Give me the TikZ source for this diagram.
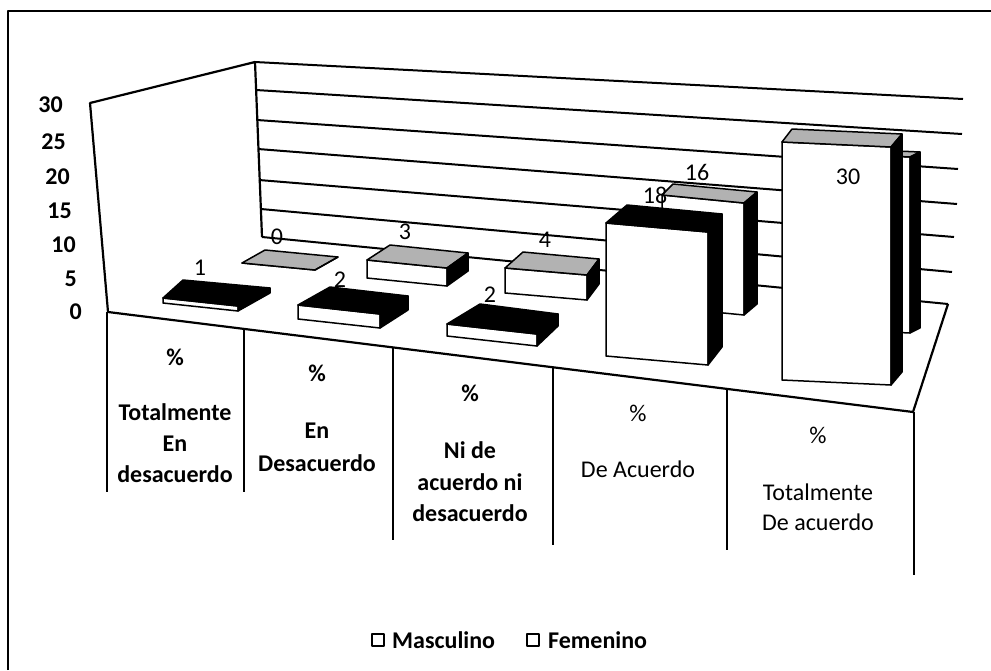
\documentclass[tikz,border=0pt]{standalone}
\usepackage{fontspec}
\setmainfont{Carlito}
\usetikzlibrary{calc}

\begin{document}
\begin{tikzpicture}[
        x=1pt, y=-1pt, line join=round,
        font=\fontsize{24}{30}\selectfont\bfseries,
        linea/.style={line width=2.2pt},
        rejilla/.style={line width=2pt},
        caja/.style={draw=black, line width=1.5pt},
        cara/.style={caja, fill=white},
        lado/.style={caja, fill=black},
        tapanegra/.style={caja, fill=black},
        tapapunteada/.style={caja, fill=black!30},
        eje/.style={anchor=east, inner sep=0pt},
        dato/.style={inner sep=0pt, font=\fontsize{24}{30}\selectfont},
        categoria/.style={anchor=base, inner sep=0pt},
        cuadro/.style={draw, line width=1.8pt, fill=white, minimum size=12pt, inner sep=0pt},
    ]
    \useasboundingbox (0,0) rectangle (991,670);

    % --- Marco exterior ---
    \draw[linea] (8,670) -- (8,11) -- (991,11);

    % --- Lineas de la pared del fondo ---
    \foreach \xa/\ya/\xb/\yb in {255/62/963/99, 256/90/962/134, 257/120/958/169,
                                 258/149/957/204, 259/180/954/237, 261/209/952/272,
                                 262/237/948/304} {
        \draw[rejilla] (\xa,\ya) -- (\xb,\yb);
    }

    % --- Pared izquierda y suelo ---
    \draw[linea] (108,312) -- (90,103) -- (255,62) -- (262,237);
    \draw[linea] (108,312) -- (913,412) -- (948,304);

    % --- Separadores de categorias ---
    \foreach \x/\ya/\yb in {107/312/492, 244/329/492, 393/347/540,
                            553/367/545, 727/389/550, 914/412/575} {
        \draw[linea] (\x,\ya) -- (\x,\yb);
    }

    % --- Barras: Femenino (fondo) y Masculino (delante) ---
    \foreach \xa/\xc/\ya/\yc/\h/\dl/\dr/\dy/\tapa in {
            242/315/263/270/0/23/23/13/tapapunteada,
            367/447/260/268/18/23/21/15/tapapunteada,
            505/587/268/275/25/18/12/16/tapapunteada,
            662/744/195/203/112/11/13/11/tapapunteada,
            800/910/152/157/176/6/10/5/tapapunteada,
            163/238/298/306/5/20/32/18/tapanegra,
            298/380/305/314/14/32/28/18/tapanegra,
            447/537/324/334/12/33/21/20/tapanegra,
            606/708/223/232/133/21/14/18/tapanegra,
            782/891/142/147/238/10/11/13/tapapunteada} {
        \filldraw[cara] (\xa,\ya) -- (\xc,\yc) -- (\xc,\yc+\h) -- (\xa,\ya+\h) -- cycle;
        \filldraw[\tapa] (\xa,\ya) -- (\xa+\dl,\ya-\dy) -- (\xc+\dr,\yc-\dy) -- (\xc,\yc) -- cycle;
        \filldraw[lado] (\xc,\yc) -- (\xc+\dr,\yc-\dy) -- (\xc+\dr,\yc-\dy+\h) -- (\xc,\yc+\h) -- cycle;
    }

    % --- Valores del eje ---
    \foreach \v/\x/\y in {30/63/105, 25/66/142, 20/70/177, 15/72/211,
                          10/76/245, 5/77/279, 0/82/312} {
        \node[eje] (eje-\v) at (\x,\y) {\v};
    }

    % --- Etiquetas de datos ---
    \node[dato] (m1) at (200,268) {1};
    \node[dato] (f1) at (277,237) {0};
    \node[dato] (m2) at (340,280) {2};
    \node[dato] (f2) at (405,232) {3};
    \node[dato] (m3) at (490,295) {2};
    \node[dato] (f3) at (545,240) {4};
    \node[dato] (m4) at (655,195) {18};
    \node[dato] (f4) at (697,172) {16};
    \node[dato] (m5) at (848,177) {30};

    % --- Nombres de las categorias ---
    \foreach \x/\y/\t [count=\i] in {175/365/\%, 175/420/Totalmente, 175/451/En, 175/482/desacuerdo,
                                     317/381/\%, 317/438/En, 317/471/Desacuerdo,
                                     470/401/\%, 470/458/Ni de, 470/490/acuerdo ni, 470/521/desacuerdo} {
        \node[categoria] (cat-\i) at (\x,\y) {\t};
    }
    \foreach \x/\y/\t [count=\i] in {638/421/\%, 638/477/De Acuerdo,
                                     818/443/\%, 818/500/Totalmente, 818/530/De acuerdo} {
        \node[categoria, font=\fontsize{24}{30}\selectfont] (catb-\i) at (\x,\y) {\t};
    }

    % --- Leyenda ---
    \node[cuadro] (cm) at (378,640) {};
    \node[anchor=west, inner sep=0pt] (lm) at (392,640) {Masculino};
    \node[cuadro] (cf) at (533,640) {};
    \node[anchor=west, inner sep=0pt] (lf) at (548,640) {Femenino};
\end{tikzpicture}
\end{document}
